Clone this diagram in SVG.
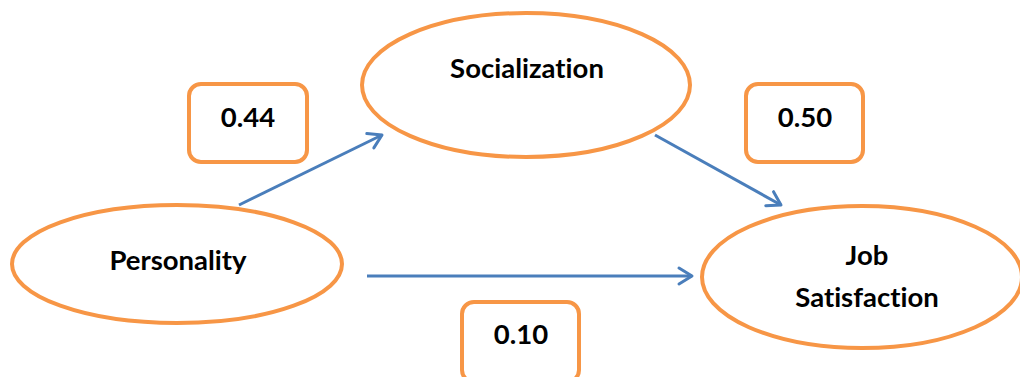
<svg xmlns="http://www.w3.org/2000/svg" width="1020" height="377" viewBox="0 0 1020 377">
<defs>
<marker id="arr" viewBox="0 0 12 12" refX="11" refY="6" markerWidth="12" markerHeight="12" markerUnits="userSpaceOnUse" orient="auto" overflow="visible">
<path d="M-2,-2 L11,6 L-2,14" fill="none" stroke="#4A7EBB" stroke-width="3" stroke-linecap="round" stroke-linejoin="round"/>
</marker>
</defs>
<style>
.node{fill:#fff;stroke:#F79646;stroke-width:4}
.lab{font-family:Lato,"Liberation Sans",sans-serif;font-weight:bold;font-size:27.5px;fill:#000;text-anchor:middle;font-variant-ligatures:none;font-feature-settings:"liga" 0,"clig" 0,"dlig" 0}
.edge{stroke:#4A7EBB;stroke-width:3;fill:none;marker-end:url(#arr)}
</style>
<rect width="1020" height="377" fill="#fff"/>
<g id="connectors">
<line class="edge" x1="239" y1="205" x2="382" y2="135"/>
<line class="edge" x1="655" y1="135" x2="781" y2="205"/>
<line class="edge" x1="367" y1="276" x2="692" y2="276"/>
</g>
<g id="socialization">
<ellipse class="node" cx="526" cy="85" rx="164" ry="72"/>
<text class="lab" x="527" y="78">Socialization</text>
</g>
<g id="personality">
<ellipse class="node" cx="177" cy="264" rx="165" ry="59"/>
<text class="lab" x="178" y="270">Personality</text>
</g>
<g id="jobsatisfaction">
<ellipse class="node" cx="862" cy="277" rx="160" ry="71"/>
<text class="lab" x="867" y="265">Job</text>
<text class="lab" x="867" y="307">Satisfaction</text>
</g>
<g id="w044">
<rect class="node" x="189" y="84" width="118" height="78" rx="12"/>
<text class="lab" x="248" y="127">0.44</text>
</g>
<g id="w050">
<rect class="node" x="746" y="84" width="117" height="78" rx="12"/>
<text class="lab" x="805" y="127">0.50</text>
</g>
<g id="w010">
<rect class="node" x="462" y="302" width="117" height="80" rx="12"/>
<text class="lab" x="521" y="344">0.10</text>
</g>
</svg>
